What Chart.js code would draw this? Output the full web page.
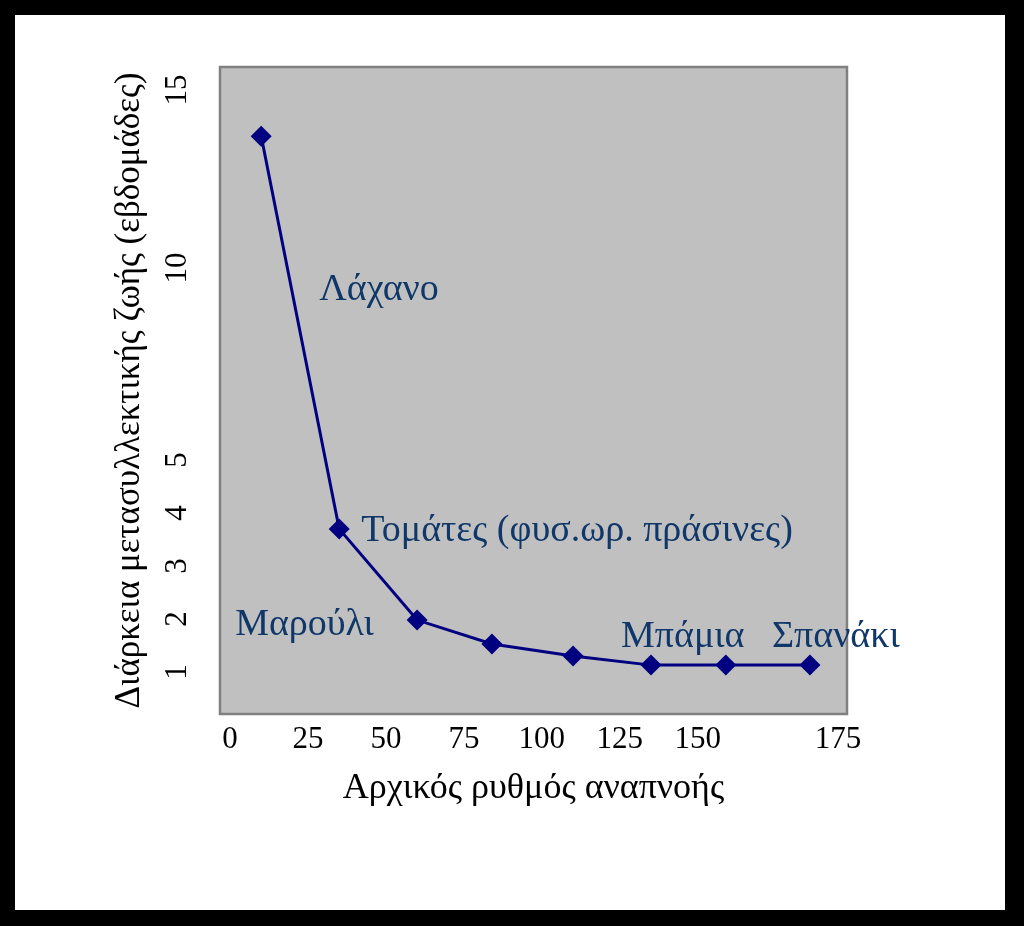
<!DOCTYPE html>
<html><head><meta charset="utf-8">
<script src="https://cdn.jsdelivr.net/npm/chart.js@4/dist/chart.umd.min.js"></script>
<style>
html,body{margin:0;padding:0;background:#000;width:1024px;height:926px;overflow:hidden}
#frame{position:absolute;left:15px;top:15px;width:990px;height:895px;background:#fff}
canvas{display:block}
</style></head><body>
<div id="frame"><canvas id="c" width="990" height="895"></canvas></div>
<script>
// ---- data ----
const respirationRate = [10, 35, 60, 84, 110, 135, 155, 170];
const storageWeeks = [13.7, 3.7, 1.98, 1.53, 1.3, 1.13, 1.13, 1.13];
const xTickValues = [0, 25, 50, 75, 100, 125, 150, 175];
const yTickValues = [1, 2, 3, 4, 5, 10, 15];
const produceNames = ['Λάχανο', 'Τομάτες (φυσ.ωρ. πράσινες)', 'Μαρούλι', 'Μπάμια', 'Σπανάκι'];
const producePointIndex = [0, 1, 2, 5, 7];
const xTitle = 'Αρχικός ρυθμός αναπνοής';
const yTitle = 'Διάρκεια μετασυλλεκτικής ζωής (εβδομάδες)';

// ---- axis break configuration (value -> fraction of axis length) ----
const axisBreaks = {
  x: [[0, 0.016], [150, 0.762], [175, 0.9856]],
  y: [[1, 0.0649], [5, 0.3926], [10, 0.6893], [15, 0.9645]]
};
const axisTicks = { x: xTickValues, y: yTickValues };
// label offsets (px) relative to their point
const labelOffsets = [[58, 154], [22, 2], [-182, 5], [-30, -28], [-38, -28]];

const FONT = "'Liberation Serif', 'Times New Roman', serif";

class PiecewiseScale extends Chart.LinearScale {
  buildTicks() { return axisTicks[this.id].map(v => ({ value: v })); }
  _toDec(v) {
    const a = axisBreaks[this.id];
    let i = 0;
    while (i < a.length - 2 && v > a[i + 1][0]) i++;
    const [v0, d0] = a[i], [v1, d1] = a[i + 1];
    return d0 + (v - v0) * (d1 - d0) / (v1 - v0);
  }
  _fromDec(d) {
    const a = axisBreaks[this.id];
    let i = 0;
    while (i < a.length - 2 && d > a[i + 1][1]) i++;
    const [v0, d0] = a[i], [v1, d1] = a[i + 1];
    return v0 + (d - d0) * (v1 - v0) / (d1 - d0);
  }
  getPixelForValue(value) {
    if (value === null || value === undefined || isNaN(value)) return NaN;
    return this.getPixelForDecimal(this._toDec(value));
  }
  getValueForPixel(pixel) { return this._fromDec(this.getDecimalForPixel(pixel)); }
}
PiecewiseScale.id = 'piecewise';
PiecewiseScale.defaults = Chart.LinearScale.defaults;
Chart.register(PiecewiseScale);

const plotBackground = {
  id: 'plotBackground',
  beforeDatasetsDraw(chart) {
    const { ctx, chartArea: a } = chart;
    ctx.save();
    ctx.fillStyle = '#c0c0c0';
    ctx.fillRect(a.left, a.top, a.right - a.left, a.bottom - a.top);
    ctx.strokeStyle = '#808080';
    ctx.lineWidth = 2.5;
    ctx.strokeRect(a.left, a.top, a.right - a.left, a.bottom - a.top);
    ctx.restore();
  }
};

const yTickLabels = {
  id: 'yTickLabels',
  afterDraw(chart) {
    const { ctx } = chart;
    const ys = chart.scales.y;
    ctx.save();
    ctx.fillStyle = '#000';
    ctx.font = '31px ' + FONT;
    ctx.textAlign = 'center';
    ctx.textBaseline = 'middle';
    yTickValues.forEach(v => {
      const y = ys.getPixelForValue(v);
      ctx.save();
      ctx.translate(163, y);
      ctx.rotate(-Math.PI / 2);
      ctx.fillText(String(v), 0, 0);
      ctx.restore();
    });
    ctx.restore();
  }
};

const produceLabels = {
  id: 'produceLabels',
  afterDatasetsDraw(chart) {
    const { ctx } = chart;
    const xs = chart.scales.x, ys = chart.scales.y;
    ctx.save();
    ctx.fillStyle = '#0f3769';
    ctx.font = '38px ' + FONT;
    ctx.textAlign = 'left';
    ctx.textBaseline = 'middle';
    produceNames.forEach((name, k) => {
      const i = producePointIndex[k];
      const px = xs.getPixelForValue(respirationRate[i]) + labelOffsets[k][0];
      const py = ys.getPixelForValue(storageWeeks[i]) + labelOffsets[k][1];
      ctx.fillText(name, px, py);
    });
    ctx.restore();
  }
};

new Chart(document.getElementById('c'), {
  type: 'line',
  data: {
    datasets: [{
      data: respirationRate.map((x, i) => ({ x, y: storageWeeks[i] })),
      borderColor: '#000080',
      backgroundColor: '#000080',
      borderWidth: 3,
      pointStyle: 'rectRot',
      pointRadius: 10.5,
      pointBorderWidth: 0,
      pointBackgroundColor: '#000080',
      tension: 0,
      clip: false
    }]
  },
  options: {
    responsive: false,
    animation: false,
    devicePixelRatio: 1,
    layout: { padding: { top: 52, right: 158, left: 0, bottom: 0 } },
    plugins: { legend: { display: false }, tooltip: { enabled: false } },
    scales: {
      x: {
        type: 'piecewise',
        min: -3.2, max: 176.6,
        grid: { display: false, drawTicks: false },
        border: { display: false },
        ticks: { autoSkip: false, maxRotation: 0, minRotation: 0, padding: 7, color: '#000',
                 font: { family: FONT, size: 31 }, callback: v => String(v) },
        title: { display: true, text: xTitle, color: '#000', padding: { top: 100, bottom: 100 },
                 font: { family: FONT, size: 36 } },
        afterFit(s) { s.height = 196; }
      },
      y: {
        type: 'piecewise',
        min: 0.21, max: 15.67,
        grid: { display: false, drawTicks: false },
        border: { display: false },
        ticks: { display: false },
        title: { display: true, text: yTitle, color: '#000', padding: { top: 94, bottom: 94 },
                 font: { family: FONT, size: 35 } },
        afterFit(s) { s.width = 205; }
      }
    }
  },
  plugins: [plotBackground, yTickLabels, produceLabels]
});
</script>
</body></html>
